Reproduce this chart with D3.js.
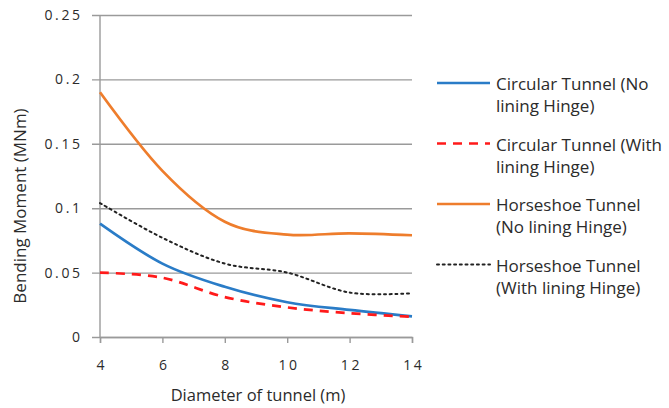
<!DOCTYPE html>
<html>
<head>
<meta charset="utf-8">
<script src="https://cdn.jsdelivr.net/npm/d3@7"></script>
<style>
  html, body { margin: 0; padding: 0; background: #fff; }
  svg text { font-family: "Open Sans", "Noto Sans", sans-serif; fill: #2b2b2b; }
</style>
</head>
<body>
<svg id="chart" width="669" height="408"></svg>
<script>
// Tunnel diameter (m)
const diameters = [4, 6, 8, 10, 12, 14];

// Bending moment (MNm) for each tunnel case
const circularNoHinge   = [0.088, 0.057, 0.039, 0.027, 0.021, 0.016];
const circularWithHinge = [0.050, 0.046, 0.031, 0.023, 0.0185, 0.0157];
const horseshoeNoHinge  = [0.190, 0.129, 0.0895, 0.0795, 0.0805, 0.079];
const horseshoeWithHinge= [0.104, 0.077, 0.057, 0.050, 0.0345, 0.034];

const seriesNames = [
  ["Circular Tunnel (No", "lining Hinge)"],
  ["Circular Tunnel (With", "lining Hinge)"],
  ["Horseshoe Tunnel", "(No lining Hinge)"],
  ["Horseshoe Tunnel", "(With lining Hinge)"]
];

const xTicks = [4, 6, 8, 10, 12, 14];
const yTicks = [0, 0.05, 0.1, 0.15, 0.2, 0.25];
const yTickLabels = ["0", "0.05", "0.1", "0.15", "0.2", "0.25"];

const styles = [
  { color: "#2a7cc7", width: 2.7, dash: null },
  { color: "#ff1a1a", width: 2.7, dash: "9,7" },
  { color: "#ee7d2c", width: 2.7, dash: null },
  { color: "#222222", width: 2,   dash: "2,3.7" }
];

const allSeries = [circularNoHinge, circularWithHinge, horseshoeNoHinge, horseshoeWithHinge];

const svg = d3.select("#chart");
const plot = { left: 100, right: 412, top: 15, bottom: 337 };

const x = d3.scaleLinear().domain([4, 14]).range([plot.left, plot.right]);
const y = d3.scaleLinear().domain([0, 0.25]).range([plot.bottom, plot.top]);

const tickFont = 14;
const tickSpacing = 2.6;

// Horizontal gridlines with left tick stubs
const yAxis = d3.axisLeft(y)
  .tickValues(yTicks)
  .tickSize(-(plot.right - plot.left))
  .tickPadding(12)
  .tickFormat((d, i) => yTickLabels[i]);

const gy = svg.append("g")
  .attr("transform", `translate(${plot.left},0)`)
  .call(yAxis);
gy.select(".domain").remove();
gy.selectAll(".tick line")
  .attr("x1", -8)
  .attr("stroke", "#9a9a9a")
  .attr("stroke-width", 1.4);
gy.selectAll(".tick text")
  .attr("font-size", tickFont)
  .attr("letter-spacing", tickSpacing)
  .attr("x", -20 + tickSpacing);

// Y axis line
svg.append("line")
  .attr("x1", plot.left).attr("x2", plot.left)
  .attr("y1", plot.top).attr("y2", plot.bottom)
  .attr("stroke", "#9a9a9a").attr("stroke-width", 1.4);

// X axis
const xAxis = d3.axisBottom(x)
  .tickValues(xTicks)
  .tickSize(6)
  .tickPadding(17)
  .tickFormat(d3.format("d"));
const gx = svg.append("g")
  .attr("transform", `translate(0,${plot.bottom})`)
  .call(xAxis);
gx.select(".domain")
  .attr("stroke", "#9a9a9a").attr("stroke-width", 1.4);
gx.selectAll(".tick line")
  .attr("stroke", "#9a9a9a").attr("stroke-width", 1.4);
gx.selectAll(".tick text")
  .attr("font-size", tickFont)
  .attr("letter-spacing", tickSpacing)
  .attr("dx", tickSpacing / 2);

// Axis titles
svg.append("text")
  .attr("x", 258)
  .attr("y", 401)
  .attr("text-anchor", "middle")
  .attr("font-size", 16.5)
  .text("Diameter of tunnel (m)");

svg.append("text")
  .attr("transform", "translate(26,206) rotate(-90)")
  .attr("text-anchor", "middle")
  .attr("font-size", 17)
  .text("Bending Moment (MNm)");

// Smoothed series lines
const line = d3.line()
  .x((d, i) => x(diameters[i]))
  .y(d => y(d))
  .curve(d3.curveCardinal.tension(0));

allSeries.forEach((vals, k) => {
  const s = styles[k];
  svg.append("path")
    .datum(vals)
    .attr("fill", "none")
    .attr("stroke", s.color)
    .attr("stroke-width", s.width)
    .attr("stroke-dasharray", s.dash)
    .attr("stroke-linecap", k === 3 ? "round" : "butt")
    .attr("d", line);
});

// Legend
const legendTop = 83;
const legendStep = 60.5;
seriesNames.forEach((lines, k) => {
  const s = styles[k];
  const yy = legendTop + k * legendStep;
  svg.append("line")
    .attr("x1", 437).attr("x2", 490)
    .attr("y1", yy).attr("y2", yy)
    .attr("stroke", s.color)
    .attr("stroke-width", k === 3 ? 2 : s.width)
    .attr("stroke-dasharray", s.dash)
    .attr("stroke-linecap", k === 3 ? "round" : "butt");
  const t = svg.append("text")
    .attr("x", 496)
    .attr("y", yy + 7)
    .attr("font-size", 17);
  lines.forEach((ln, j) => {
    t.append("tspan")
      .attr("x", 496)
      .attr("dy", j === 0 ? 0 : 22)
      .text(ln);
  });
});
</script>
</body>
</html>
